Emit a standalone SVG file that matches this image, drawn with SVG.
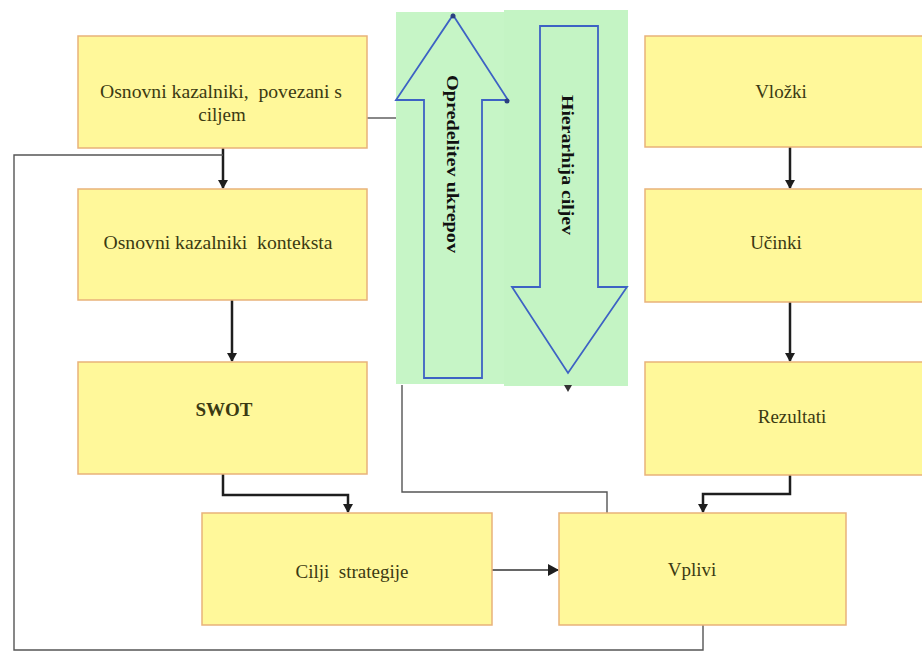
<svg xmlns="http://www.w3.org/2000/svg" width="922" height="651" viewBox="0 0 922 651">
<defs>
<style>
.box{fill:#fff89a;stroke:#e9b27a;stroke-width:1.5}
.t{font-family:"Liberation Serif","Times New Roman",serif;font-size:19px;fill:#3b3a12;text-anchor:middle}
.b{font-weight:bold}
.thick{fill:none;stroke:#1e1e1e;stroke-width:2.5}
.thin{fill:none;stroke:#555;stroke-width:1.4}
.vt{font-family:"Liberation Serif","Times New Roman",serif;font-size:17px;font-weight:bold;fill:#111;text-anchor:middle}
</style>
<marker id="ah" markerWidth="10" markerHeight="10" refX="8" refY="5" orient="auto" markerUnits="userSpaceOnUse">
<path d="M0,0 L9,5 L0,10 z" fill="#1e1e1e"/>
</marker>
<marker id="ah2" markerWidth="12" markerHeight="12" refX="10" refY="6" orient="auto" markerUnits="userSpaceOnUse">
<path d="M0,0 L11,6 L0,12 z" fill="#1e1e1e"/>
</marker>
</defs>
<rect width="922" height="651" fill="#ffffff"/>

<g id="green-band">
<rect x="396" y="12" width="108" height="372" fill="#c6f5c6"/>
<rect x="504" y="10" width="124" height="376" fill="#c4f4c4"/>
</g>

<g id="arrow-up">
<path d="M453,15 L508,100 L482,100 L482,378 L424,378 L424,100 L396,100 Z" fill="none" stroke="#3d62c4" stroke-width="1.8"/>
<circle cx="453" cy="16" r="2.5" fill="#2a3f80"/>
<circle cx="507" cy="101" r="2.5" fill="#2a3f80"/>
<text class="vt" transform="translate(453,164) rotate(90)" x="0" y="6" textLength="178" lengthAdjust="spacingAndGlyphs">Opredelitev ukrepov</text>
</g>

<g id="arrow-down">
<path d="M540,26 L598,26 L598,287 L627,287 L568,373 L512,287 L540,287 Z" fill="none" stroke="#3d62c4" stroke-width="1.8"/>
<text class="vt" transform="translate(568,165) rotate(90)" x="0" y="6" textLength="140" lengthAdjust="spacingAndGlyphs">Hierarhija ciljev</text>
<path d="M564,385 L572,385 L568,392 Z" fill="#333"/>
</g>

<g id="connectors">
<line class="thick" x1="223" y1="148" x2="223" y2="188" marker-end="url(#ah)"/>
<line class="thick" x1="232" y1="300" x2="232" y2="361" marker-end="url(#ah)"/>
<polyline class="thick" points="223,474 223,495 348,495 348,512" marker-end="url(#ah)"/>
<line class="thick" x1="790" y1="147" x2="790" y2="188" marker-end="url(#ah)"/>
<line class="thick" x1="790" y1="302" x2="790" y2="361" marker-end="url(#ah)"/>
<polyline class="thick" points="790,475 790,494 703,494 703,512" marker-end="url(#ah)"/>
<line x1="492" y1="570" x2="558" y2="570" stroke="#333" stroke-width="1.5" marker-end="url(#ah2)"/>
<polyline class="thin" points="223,155 14,155 14,650 703,650 703,625"/>
<line class="thin" x1="367" y1="118" x2="396" y2="118"/>
<polyline class="thin" points="402,385 402,492 607,492 607,513"/>
</g>

<g id="n-osnovni-cilj">
<rect class="box" x="78" y="36" width="289" height="112"/>
<text class="t" x="221" y="98" xml:space="preserve" textLength="242" lengthAdjust="spacingAndGlyphs">Osnovni kazalniki,  povezani s</text>
<text class="t" x="222" y="121">ciljem</text>
</g>
<g id="n-kontekst">
<rect class="box" x="78" y="189" width="289" height="111"/>
<text class="t" x="218" y="249" xml:space="preserve" textLength="229" lengthAdjust="spacingAndGlyphs">Osnovni kazalniki  konteksta</text>
</g>
<g id="n-swot">
<rect class="box" x="78" y="362" width="289" height="112"/>
<text class="t b" x="224" y="416">SWOT</text>
</g>
<g id="n-cilji">
<rect class="box" x="202" y="513" width="290" height="112"/>
<text class="t" x="352" y="578" xml:space="preserve">Cilji  strategije</text>
</g>
<g id="n-vplivi">
<rect class="box" x="559" y="513" width="287" height="112"/>
<text class="t" x="692" y="576">Vplivi</text>
</g>
<g id="n-vlozki">
<rect class="box" x="645" y="36" width="290" height="111"/>
<text class="t" x="781" y="98">Vložki</text>
</g>
<g id="n-ucinki">
<rect class="box" x="645" y="189" width="290" height="113"/>
<text class="t" x="776" y="249">Učinki</text>
</g>
<g id="n-rezultati">
<rect class="box" x="645" y="362" width="290" height="113"/>
<text class="t" x="792" y="423">Rezultati</text>
</g>
</svg>
